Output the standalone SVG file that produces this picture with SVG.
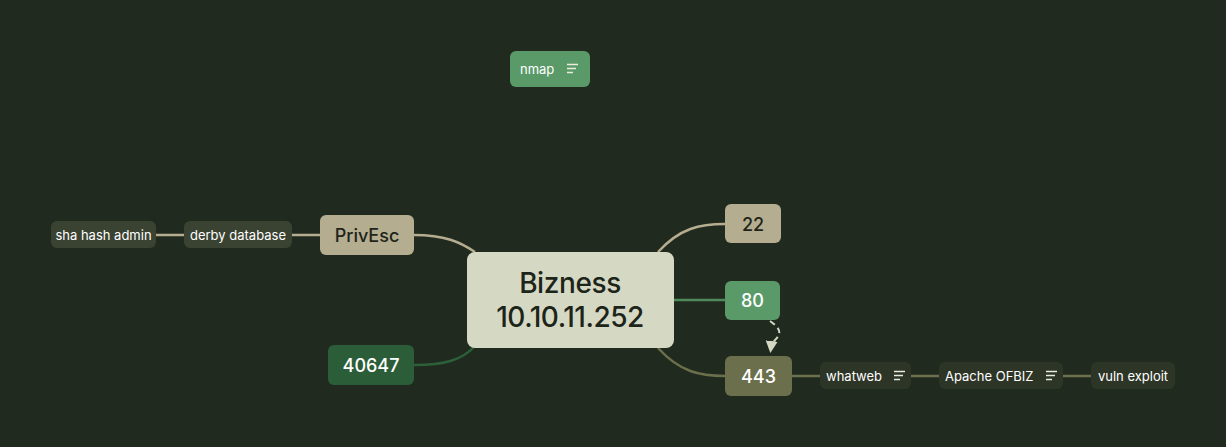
<svg xmlns="http://www.w3.org/2000/svg" width="1226" height="447" viewBox="0 0 1226 447">
<style>
text{font-family:Inter,"Noto Sans",sans-serif;}
.lt{fill:#ffffff;}
.dk{fill:#1d2419;}
.s{font-size:13px;}
.m{font-size:18px;font-weight:500;}
.sub{fill:#3a4232;}
.sub2{fill:#2d3526;}
.icon{stroke:#e8ecdc;stroke-width:1.3;}
.c{fill:none;stroke-width:2.5;}
</style>
<defs>
<marker id="ah" viewBox="0 0 10 10" refX="5" refY="5" markerWidth="6" markerHeight="6" orient="auto">
<path d="M0 0 L10 5 L0 10 z" fill="#d5d9c4"/>
</marker>
</defs>
<rect width="1226" height="447" fill="#212a1f"/>
<g id="connectors">
<path class="c" stroke="#b5ad90" d="M414 235 C 445 235, 460 242, 475 252"/>
<path class="c" stroke="#b5ad90" stroke-width="2" d="M156 235 H184 M292 235 H320"/>
<path class="c" stroke="#b5ad90" d="M658 252 C 680 228, 700 224, 725 224"/>
<path class="c" stroke="#4f8a5c" d="M674 300 H725"/>
<path class="c" stroke="#6b6f4c" d="M658 348 C 680 372, 700 376, 725 376"/>
<path class="c" stroke="#2b6038" d="M414 365 C 445 365, 462 360, 475 346"/>
<path class="c" stroke="#6b6f4c" stroke-width="2" d="M792 376 H820 M911 376 H939 M1063 376 H1091"/>
<path fill="none" stroke="#d5d9c4" stroke-width="2" stroke-dasharray="6 4" d="M770 321 C 790 335, 772 338, 771 347" marker-end="url(#ah)"/>
</g>
<g id="nmap">
<rect x="510" y="51" width="80" height="36" rx="6" fill="#5a9a68"/>
<text x="520" y="74" class="lt s">nmap</text>
<path class="icon" d="M567 64.5 H578 M567 68.5 H576 M567 72.5 H573"/>
</g>
<g id="central">
<rect x="467" y="252" width="207" height="96" rx="8" fill="#d5d9c4"/>
<text x="570" y="293" text-anchor="middle" class="dk" font-size="28" font-weight="500" letter-spacing="-0.4">Bizness</text>
<text x="570" y="327" text-anchor="middle" class="dk" font-size="28" font-weight="500" letter-spacing="-0.5">10.10.11.252</text>
</g>
<g id="privesc">
<rect x="320" y="215" width="94" height="40" rx="6" fill="#b5ad90"/>
<text x="367" y="242" text-anchor="middle" class="dk m">PrivEsc</text>
</g>
<g id="derby">
<rect x="184" y="221" width="108" height="27" rx="6" class="sub"/>
<text x="238" y="239.5" text-anchor="middle" class="lt s">derby database</text>
</g>
<g id="sha">
<rect x="51" y="221" width="105" height="27" rx="6" class="sub"/>
<text x="103.5" y="239.5" text-anchor="middle" class="lt s">sha hash admin</text>
</g>
<g id="p22">
<rect x="725" y="204" width="56" height="39" rx="6" fill="#b5ad90"/>
<text x="753" y="230.5" text-anchor="middle" class="dk m">22</text>
</g>
<g id="p80">
<rect x="725" y="281" width="55" height="39" rx="6" fill="#5a9a68"/>
<text x="752.5" y="307" text-anchor="middle" class="lt m">80</text>
</g>
<g id="p443">
<rect x="725" y="356" width="67" height="40" rx="6" fill="#6b6f4c"/>
<text x="758.5" y="383" text-anchor="middle" class="lt m">443</text>
</g>
<g id="p40647">
<rect x="328" y="345" width="86" height="40" rx="6" fill="#2b5e38"/>
<text x="371" y="372" text-anchor="middle" class="lt m">40647</text>
</g>
<g id="whatweb">
<rect x="820" y="362" width="91" height="27" rx="6" class="sub2"/>
<text x="826" y="380.5" class="lt s">whatweb</text>
<path class="icon" d="M894 371.5 H905 M894 375.5 H903 M894 379.5 H900"/>
</g>
<g id="ofbiz">
<rect x="939" y="362" width="124" height="27" rx="6" class="sub2"/>
<text x="945" y="380.5" class="lt s">Apache OFBIZ</text>
<path class="icon" d="M1046 371.5 H1057 M1046 375.5 H1055 M1046 379.5 H1052"/>
</g>
<g id="vuln">
<rect x="1091" y="362" width="84" height="27" rx="6" class="sub2"/>
<text x="1133" y="380.5" text-anchor="middle" class="lt s">vuln exploit</text>
</g>
</svg>
